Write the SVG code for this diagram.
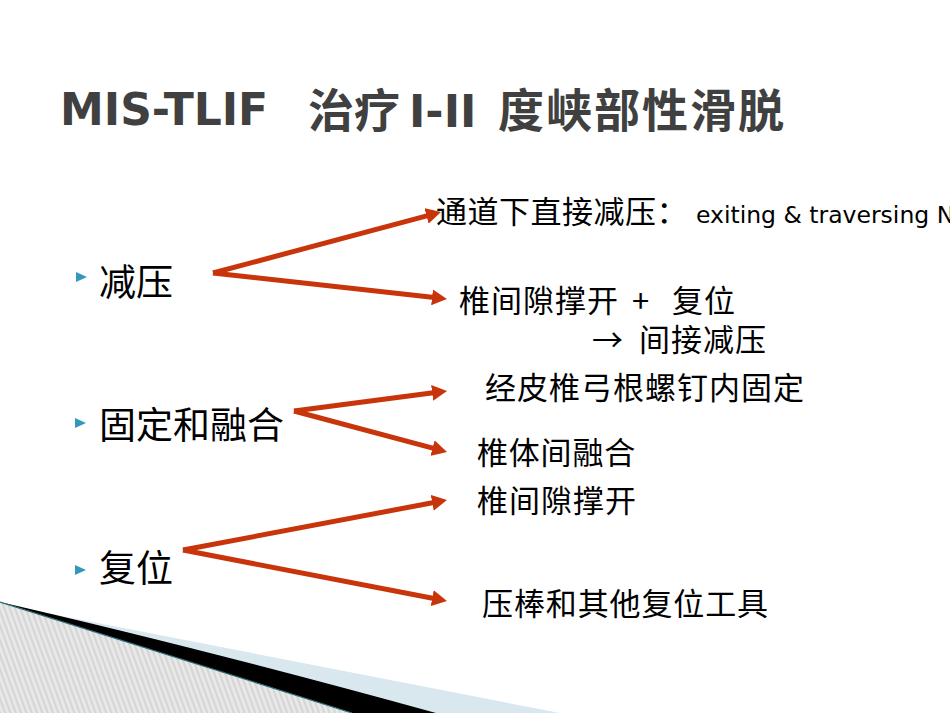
<svg xmlns="http://www.w3.org/2000/svg" width="950" height="713" viewBox="0 0 950 713">
<defs>
<style>
.title{font-family:"DejaVu Sans","Noto Sans CJK SC",sans-serif;font-weight:bold;font-size:44px;fill:#404040}
.tcjk{font-family:"Noto Sans CJK SC",sans-serif;font-weight:bold;font-size:46px}
.lv1{font-family:"Noto Sans CJK SC",sans-serif;font-size:37px;fill:#000}
.lv2{font-family:"Noto Sans CJK SC",sans-serif;font-size:31px;fill:#000}
.lat{font-family:"DejaVu Sans",sans-serif;font-size:23.5px}
.bul{fill:#3399BB}
.arr{stroke:#C9350A;stroke-width:5;fill:none;marker-end:url(#ah)}
</style>
<marker id="ah" markerUnits="userSpaceOnUse" viewBox="0 0 15 16" markerWidth="15" markerHeight="16" refX="7" refY="8" orient="auto">
<path d="M0,0 L15,8 L0,16 z" fill="#C9350A"/>
</marker>
<pattern id="hatch" width="5" height="10" patternUnits="userSpaceOnUse" patternTransform="rotate(-20)">
<rect width="5" height="10" fill="#E8E8E8"/>
<line x1="1" y1="0" x2="1" y2="10" stroke="#C2C2C2" stroke-width="1"/>
</pattern>
</defs>
<rect width="950" height="713" fill="#FFFFFF"/>

<g id="decoration">
<path d="M0,604 L560,713 L0,713 z" fill="#D9E8EF"/>
<path d="M0,602 Q200,648 436,713 L352,713 z" fill="#000"/>
<path d="M0,602 L352,713 L0,713 z" fill="url(#hatch)"/>
<path d="M0,602 L352,713" stroke="#2A6A7A" stroke-width="1.2" fill="none"/>
</g>

<g id="title">
<text class="title" x="60" y="125">MIS-TLIF<tspan class="tcjk" x="308" y="127">治疗</tspan><tspan x="409">I-II</tspan><tspan class="tcjk" x="498" y="127" letter-spacing="2">度峡部性滑脱</tspan></text>
</g>

<g id="node-jianya">
<path class="bul" d="M76,272 L87,277 L76,282 z"/>
<text class="lv1" x="99" y="295.5">减压</text>
</g>
<g id="node-guding">
<path class="bul" d="M75,418 L86,423 L75,428 z"/>
<text class="lv1" x="99" y="439">固定和融合</text>
</g>
<g id="node-fuwei">
<path class="bul" d="M75,565 L86,570 L75,575 z"/>
<text class="lv1" x="99" y="582">复位</text>
</g>

<g id="node-direct">
<text class="lv2" x="436" y="223" letter-spacing="0.5">通道下直接减压：<tspan class="lat" x="696" letter-spacing="0">exiting &amp; traversing N</tspan></text>
</g>
<g id="node-indirect">
<text class="lv2" x="459" y="312" letter-spacing="1">椎间隙撑开<tspan x="632">+</tspan><tspan x="672">复位</tspan></text>
<text class="lv2" x="592" y="351" letter-spacing="1">→<tspan x="639">间接减压</tspan></text>
</g>
<g id="node-screw">
<text class="lv2" x="485" y="399" textLength="319" lengthAdjust="spacing">经皮椎弓根螺钉内固定</text>
</g>
<g id="node-fusion">
<text class="lv2" x="477" y="464" letter-spacing="0.8">椎体间融合</text>
</g>
<g id="node-distraction">
<text class="lv2" x="477" y="512" letter-spacing="1">椎间隙撑开</text>
</g>
<g id="node-tools">
<text class="lv2" x="482" y="615" textLength="286" lengthAdjust="spacing">压棒和其他复位工具</text>
</g>

<g id="connectors">
<line class="arr" x1="213" y1="273" x2="433.3" y2="214.1"/>
<line class="arr" x1="213" y1="273" x2="439" y2="298.1"/>
<line class="arr" x1="294" y1="411" x2="439.1" y2="392"/>
<line class="arr" x1="294" y1="411" x2="439.3" y2="449.9"/>
<line class="arr" x1="183" y1="550" x2="439.1" y2="501.5"/>
<line class="arr" x1="183" y1="550" x2="439.1" y2="599.5"/>
</g>
</svg>
